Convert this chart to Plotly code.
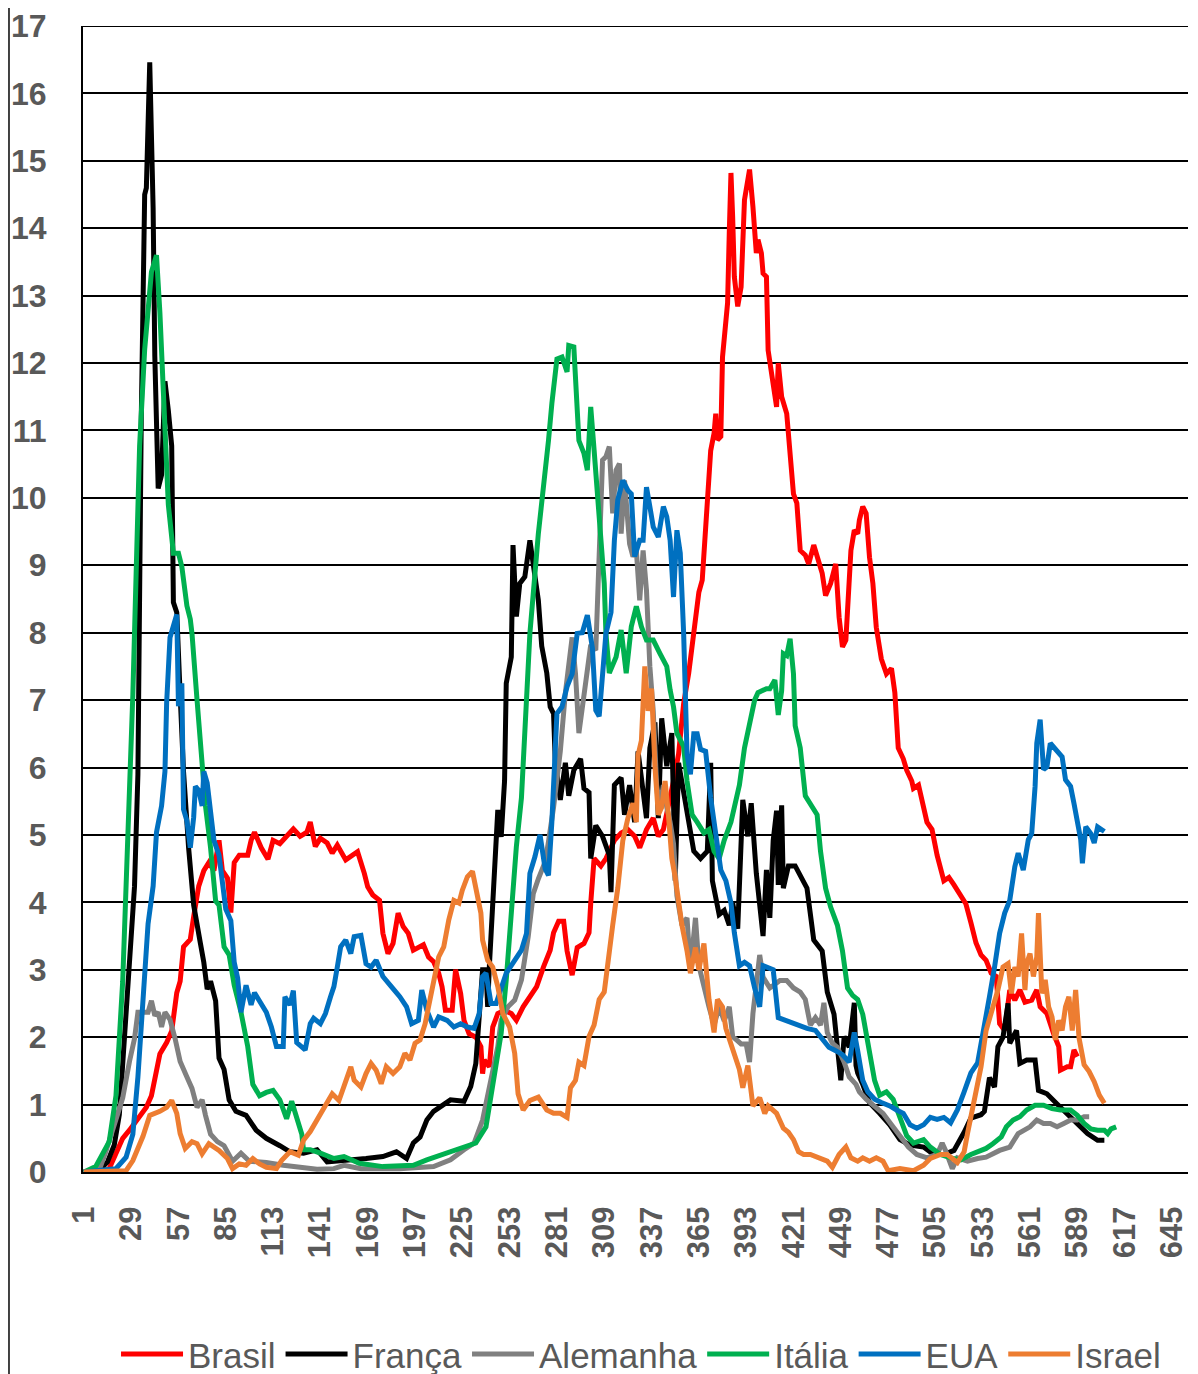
import plotly.graph_objects as go

# ---------------- data ----------------
tick_vals = list(range(1, 646, 28))
tick_text = [str(v) for v in tick_vals]

brasil_days = [1, 12, 16, 20, 24, 28, 34, 38, 41, 43, 46, 50, 53, 56, 58, 60, 64, 66, 69, 72, 75, 78, 81, 83, 86, 88, 90, 93, 98, 100, 102, 106, 110, 113, 117, 121, 125, 129, 133, 135, 138, 141, 145, 148, 151, 156, 160, 163, 167, 169, 172, 176, 178, 181, 184, 187, 190, 193, 196, 199, 202, 205, 208, 211, 213, 215, 219, 221, 224, 226, 229, 233, 236, 237, 238, 241, 243, 246, 250, 254, 257, 261, 265, 269, 273, 277, 279, 282, 285, 287, 290, 293, 297, 300, 301, 303, 307, 310, 315, 319, 323, 327, 330, 334, 338, 341, 344, 347, 350, 353, 356, 359, 362, 365, 367, 369, 371, 372, 374, 375, 376, 378, 379, 381, 382, 383, 384, 385, 386, 388, 390, 392, 395, 397, 399, 400, 402, 403, 405, 406, 407, 409, 411, 412, 414, 417, 419, 421, 423, 425, 428, 430, 433, 436, 438, 440, 443, 446, 448, 450, 452, 455, 457, 459, 460, 462, 464, 466, 468, 470, 472, 473, 476, 479, 481, 483, 486, 488, 491, 492, 495, 498, 500, 503, 506, 510, 513, 516, 520, 523, 526, 529, 532, 535, 538, 541, 543, 546, 549, 552, 555, 558, 562, 565, 567, 571, 575, 578, 579, 583, 585, 587, 589]
brasil_vals = [0, 0, 0.05, 0.28, 0.5, 0.62, 0.84, 0.96, 1.13, 1.41, 1.75, 1.92, 2.09, 2.66, 2.83, 3.34, 3.45, 3.79, 4.24, 4.47, 4.59, 4.47, 4.92, 4.47, 4.36, 3.85, 4.59, 4.7, 4.7, 4.92, 5.04, 4.81, 4.64, 4.92, 4.87, 4.98, 5.09, 4.98, 5.04, 5.19, 4.83, 4.95, 4.88, 4.73, 4.85, 4.63, 4.7, 4.75, 4.43, 4.23, 4.11, 4.03, 3.54, 3.24, 3.39, 3.84, 3.64, 3.54, 3.29, 3.34, 3.37, 3.19, 3.12, 2.95, 2.75, 2.4, 2.4, 3.0, 2.65, 2.25, 2.05, 2.0, 1.86, 1.46, 1.66, 1.56, 2.15, 2.35, 2.4, 2.35, 2.25, 2.45, 2.6, 2.75, 3.04, 3.29, 3.55, 3.72, 3.72, 3.28, 2.92, 3.33, 3.39, 3.55, 3.99, 4.65, 4.54, 4.65, 4.92, 5.03, 5.08, 4.98, 4.81, 5.08, 5.25, 4.98, 5.08, 5.41, 5.8, 6.2, 6.95, 7.4, 8.0, 8.6, 8.78, 9.6, 10.4, 10.7, 10.96, 11.25, 10.86, 10.91, 12.09, 12.6, 12.89, 13.93, 14.82, 14.17, 13.28, 12.84, 13.13, 14.42, 14.87, 14.32, 13.63, 13.83, 13.63, 13.33, 13.28, 12.19, 12.04, 11.7, 11.35, 12.0, 11.5, 11.25, 10.71, 10.06, 9.92, 9.22, 9.15, 9.02, 9.3, 9.02, 8.88, 8.55, 8.73, 9.02, 8.23, 7.79, 7.89, 9.22, 9.52, 9.47, 9.67, 9.87, 9.77, 9.12, 8.73, 8.08, 7.74, 7.61, 7.39, 7.47, 7.11, 6.29, 6.13, 5.96, 5.8, 5.69, 5.74, 5.41, 5.19, 5.08, 4.7, 4.32, 4.37, 4.26, 4.1, 3.98, 3.7, 3.4, 3.22, 3.14, 2.95, 2.9, 2.2, 2.1, 2.7, 2.55, 2.7, 2.52, 2.55, 2.7, 2.45, 2.35, 2.05, 1.86, 1.51, 1.56, 1.56, 1.81, 1.71]

franca_days = [1, 10, 15, 19, 22, 25, 28, 31, 33, 34, 35, 37, 38, 40, 42, 43, 45, 47, 49, 51, 53, 54, 56, 58, 60, 63, 66, 70, 72, 74, 76, 79, 81, 84, 87, 91, 97, 103, 109, 117, 123, 131, 139, 145, 159, 168, 178, 186, 192, 196, 200, 204, 208, 214, 218, 226, 230, 233, 235, 237, 239, 240, 241, 242, 244, 246, 248, 250, 251, 254, 255, 257, 259, 262, 265, 267, 270, 272, 275, 277, 279, 280, 283, 286, 288, 291, 295, 297, 300, 301, 304, 308, 312, 313, 315, 319, 321, 324, 327, 329, 331, 334, 336, 339, 341, 343, 346, 349, 350, 351, 353, 356, 359, 362, 366, 370, 372, 373, 377, 380, 383, 385, 388, 391, 394, 396, 399, 401, 403, 405, 407, 409, 411, 412, 414, 415, 418, 422, 426, 429, 433, 438, 441, 445, 449, 451, 454, 457, 458, 459, 462, 466, 472, 478, 484, 490, 498, 504, 510, 516, 522, 526, 532, 534, 537, 540, 542, 545, 548, 549, 553, 555, 559, 564, 566, 571, 577, 583, 589, 595, 601, 605]
franca_vals = [0, 0.02, 0.15, 0.4, 0.85, 1.98, 3.1, 4.24, 5.9, 9.5, 11.2, 14.5, 14.6, 16.46, 14.3, 12.1, 10.14, 10.34, 11.73, 11.3, 10.77, 8.45, 8.3, 7.08, 5.94, 4.81, 3.96, 3.39, 3.11, 2.71, 2.83, 2.54, 1.69, 1.52, 1.07, 0.9, 0.84, 0.62, 0.5, 0.39, 0.3, 0.28, 0.33, 0.15, 0.17, 0.2, 0.23, 0.3, 0.2, 0.43, 0.52, 0.77, 0.9, 0.99, 1.07, 1.05, 1.27, 1.61, 2.36, 3.0, 3.0, 2.45, 3.05, 3.49, 4.33, 5.37, 4.97, 5.8, 7.25, 7.64, 9.3, 8.24, 8.73, 8.83, 9.37, 9.03, 8.48, 7.8, 7.4, 6.9, 6.8, 6.1, 5.52, 6.07, 5.58, 5.96, 6.13, 5.69, 5.63, 4.65, 5.14, 4.98, 4.7, 4.15, 5.74, 5.85, 5.3, 5.74, 5.19, 6.24, 5.85, 5.25, 6.29, 6.67, 5.25, 6.73, 6.02, 6.51, 5.47, 4.32, 6.07, 5.63, 5.19, 4.76, 4.65, 4.76, 6.07, 4.32, 3.82, 3.88, 3.66, 3.99, 3.61, 5.52, 4.98, 5.47, 4.43, 3.99, 3.5, 4.48, 3.77, 4.92, 5.36, 4.26, 5.44, 4.21, 4.54, 4.54, 4.37, 4.21, 3.44, 3.28, 2.67, 2.34, 1.36, 2.01, 1.85, 2.51, 1.58, 1.47, 1.3, 1.03, 0.87, 0.7, 0.48, 0.4, 0.37, 0.26, 0.26, 0.32, 0.59, 0.8, 0.85, 0.9, 1.4, 1.26, 1.86, 2.0, 2.5, 1.91, 2.1, 1.61, 1.66, 1.66, 1.21, 1.16, 1.01, 0.87, 0.72, 0.57, 0.47, 0.47]

alemanha_days = [1, 10, 14, 17, 20, 24, 28, 31, 33, 36, 39, 41, 43, 45, 47, 49, 52, 55, 58, 62, 65, 68, 71, 73, 76, 80, 84, 89, 94, 99, 109, 119, 129, 139, 149, 155, 165, 188, 208, 218, 226, 232, 237, 240, 243, 246, 248, 252, 256, 260, 264, 267, 270, 274, 276, 279, 283, 286, 290, 292, 294, 297, 301, 304, 306, 308, 310, 312, 314, 316, 318, 319, 321, 324, 326, 328, 330, 332, 334, 336, 338, 340, 342, 344, 346, 348, 350, 352, 355, 358, 360, 363, 365, 368, 371, 374, 377, 380, 383, 385, 387, 390, 393, 395, 397, 399, 401, 403, 407, 413, 417, 421, 425, 428, 431, 434, 437, 439, 441, 444, 447, 451, 454, 458, 460, 464, 469, 474, 479, 484, 489, 494, 500, 506, 509, 511, 515, 518, 524, 530, 535, 543, 549, 554, 557, 561, 565, 569, 573, 577, 581, 585, 589, 593, 596]
alemanha_vals = [0, 0.02, 0.3, 0.55, 0.8, 1.1, 1.64, 1.98, 2.37, 2.37, 2.37, 2.54, 2.32, 2.37, 2.15, 2.37, 2.26, 1.98, 1.64, 1.41, 1.24, 0.96, 1.07, 0.84, 0.56, 0.45, 0.39, 0.16, 0.28, 0.16, 0.14, 0.1, 0.07, 0.04, 0.05, 0.1, 0.05, 0.05, 0.08, 0.18, 0.33, 0.43, 0.77, 1.12, 1.46, 1.86, 2.25, 2.45, 2.55, 2.85, 3.49, 4.13, 4.35, 4.6, 4.9, 5.41, 6.24, 7.11, 7.93, 7.39, 6.51, 7.11, 7.82, 7.74, 9.47, 10.56, 10.61, 10.76, 9.77, 10.41, 10.51, 9.47, 10.26, 9.32, 9.13, 9.22, 8.48, 9.22, 8.63, 7.5, 6.84, 5.74, 5.41, 5.74, 5.41, 5.19, 4.87, 4.1, 3.66, 3.77, 3.0, 3.77, 3.06, 2.73, 2.45, 2.18, 2.45, 2.24, 2.45, 2.01, 1.96, 1.9, 1.9, 1.63, 2.35, 2.73, 3.22, 2.89, 2.73, 2.84, 2.84, 2.73, 2.67, 2.56, 2.18, 2.29, 2.18, 2.51, 2.07, 1.91, 1.85, 1.63, 1.41, 1.3, 1.19, 1.08, 0.98, 0.87, 0.7, 0.54, 0.37, 0.26, 0.21, 0.26, 0.43, 0.32, 0.05, 0.21, 0.16, 0.2, 0.22, 0.32, 0.37, 0.57, 0.62, 0.67, 0.77, 0.72, 0.72, 0.67, 0.72, 0.77, 0.77, 0.82, 0.82]

italia_days = [1, 8, 16, 20, 24, 27, 30, 34, 37, 41, 44, 46, 49, 51, 54, 57, 59, 62, 64, 65, 68, 71, 73, 76, 79, 81, 84, 87, 90, 94, 98, 101, 105, 109, 113, 117, 121, 124, 127, 130, 131, 135, 141, 149, 155, 164, 178, 196, 204, 216, 222, 233, 239, 242, 245, 248, 251, 254, 257, 260, 265, 270, 273, 276, 278, 281, 284, 287, 288, 291, 294, 297, 299, 301, 303, 306, 309, 310, 312, 316, 319, 322, 325, 328, 331, 334, 338, 342, 346, 348, 350, 352, 356, 358, 361, 364, 368, 371, 374, 377, 380, 384, 386, 389, 392, 395, 398, 400, 405, 407, 410, 412, 414, 415, 417, 419, 421, 422, 425, 428, 431, 435, 437, 440, 443, 447, 450, 453, 456, 459, 462, 465, 469, 472, 476, 480, 484, 488, 492, 498, 502, 508, 514, 520, 526, 530, 535, 539, 544, 547, 551, 555, 559, 564, 569, 574, 579, 585, 589, 593, 597, 601, 605, 607, 609, 612]
italia_vals = [0, 0.08, 0.45, 1.13, 2.83, 4.81, 7.08, 10.77, 12.2, 13.35, 13.6, 12.75, 11.1, 9.9, 9.18, 9.18, 8.98, 8.4, 8.2, 7.99, 7.0, 6.06, 5.43, 4.81, 4.02, 3.96, 3.34, 3.22, 2.77, 2.37, 1.86, 1.3, 1.13, 1.18, 1.21, 1.07, 0.79, 1.05, 0.79, 0.56, 0.33, 0.33, 0.28, 0.2, 0.23, 0.13, 0.08, 0.1, 0.18, 0.28, 0.33, 0.43, 0.67, 1.12, 1.61, 2.06, 2.85, 3.84, 4.83, 5.55, 7.99, 9.47, 10.11, 10.85, 11.4, 12.06, 12.09, 11.87, 12.26, 12.24, 10.85, 10.66, 10.41, 11.35, 10.71, 9.72, 8.73, 7.99, 7.4, 7.64, 8.04, 7.4, 8.09, 8.39, 8.09, 7.89, 7.89, 7.69, 7.5, 7.15, 6.9, 6.51, 6.31, 5.8, 5.3, 5.19, 5.03, 5.08, 4.76, 4.65, 4.92, 5.19, 5.41, 5.74, 6.29, 6.62, 7.0, 7.11, 7.17, 7.17, 7.3, 6.78, 7.14, 7.69, 7.66, 7.91, 7.39, 6.62, 6.29, 5.58, 5.47, 5.3, 4.76, 4.21, 3.93, 3.66, 3.28, 2.73, 2.62, 2.56, 2.34, 1.91, 1.36, 1.14, 1.19, 1.08, 0.81, 0.54, 0.43, 0.48, 0.37, 0.26, 0.21, 0.18, 0.26, 0.3, 0.35, 0.42, 0.52, 0.67, 0.77, 0.82, 0.92, 0.99, 0.99, 0.94, 0.92, 0.92, 0.84, 0.72, 0.64, 0.62, 0.62, 0.57, 0.64, 0.67]

eua_days = [1, 20, 26, 30, 33, 36, 39, 42, 44, 47, 49, 50, 52, 54, 56, 57, 59, 60, 62, 64, 66, 67, 69, 71, 72, 74, 76, 78, 81, 85, 88, 90, 92, 94, 97, 100, 102, 106, 109, 112, 115, 119, 120, 123, 125, 127, 132, 135, 137, 141, 144, 147, 149, 151, 153, 156, 159, 161, 165, 168, 171, 174, 178, 183, 188, 192, 195, 199, 201, 204, 208, 211, 216, 220, 224, 228, 232, 235, 237, 239, 242, 245, 248, 251, 256, 260, 263, 265, 268, 271, 274, 276, 278, 281, 284, 287, 290, 293, 296, 299, 302, 304, 306, 308, 310, 313, 315, 317, 320, 323, 325, 327, 330, 332, 334, 336, 338, 341, 344, 346, 348, 350, 352, 354, 356, 358, 360, 362, 364, 366, 369, 372, 375, 378, 381, 384, 386, 389, 392, 395, 398, 401, 403, 409, 412, 417, 423, 429, 434, 438, 442, 446, 450, 454, 457, 459, 462, 465, 469, 473, 478, 482, 486, 490, 494, 498, 502, 506, 510, 514, 518, 522, 526, 530, 533, 537, 540, 543, 546, 549, 552, 554, 557, 560, 562, 564, 565, 567, 569, 571, 573, 577, 580, 582, 585, 587, 589, 591, 592, 594, 597, 599, 601, 605]
eua_vals = [0, 0.05, 0.22, 0.56, 1.41, 2.54, 3.68, 4.24, 5.04, 5.43, 5.94, 6.96, 7.93, 8.1, 8.27, 6.91, 7.25, 5.38, 5.21, 4.81, 5.26, 5.72, 5.66, 5.43, 5.94, 5.77, 5.38, 4.92, 4.7, 3.9, 3.73, 3.11, 2.88, 2.37, 2.77, 2.48, 2.66, 2.48, 2.37, 2.15, 1.86, 1.86, 2.6, 2.48, 2.69, 1.92, 1.81, 2.2, 2.28, 2.2, 2.35, 2.6, 2.75, 3.04, 3.34, 3.44, 3.24, 3.49, 3.51, 3.09, 3.04, 3.14, 2.9, 2.75, 2.6, 2.45, 2.2, 2.25, 2.7, 2.4, 2.15, 2.3, 2.25, 2.15, 2.2, 2.15, 2.13, 2.35, 2.9, 2.95, 2.5, 2.5, 2.75, 2.95, 3.14, 3.29, 3.54, 4.43, 4.68, 5.0, 4.5, 4.4, 5.19, 6.8, 6.9, 7.2, 7.39, 7.99, 8.0, 8.26, 7.77, 6.85, 6.76, 7.3, 7.99, 8.3, 9.37, 9.97, 10.26, 10.11, 10.06, 9.13, 9.37, 9.37, 10.16, 9.87, 9.57, 9.42, 9.87, 9.72, 9.37, 8.53, 9.52, 9.18, 7.99, 6.2, 5.9, 6.5, 6.5, 6.27, 6.24, 5.55, 5.03, 4.48, 4.32, 3.99, 3.55, 3.06, 3.11, 3.06, 2.73, 2.45, 3.06, 3.0, 2.29, 2.24, 2.18, 2.13, 2.1, 1.96, 1.85, 1.8, 1.74, 1.63, 2.07, 1.8, 1.36, 1.19, 1.08, 1.03, 0.98, 0.92, 0.87, 0.7, 0.65, 0.7, 0.81, 0.78, 0.81, 0.73, 0.92, 1.19, 1.47, 1.62, 2.0, 2.6, 3.04, 3.54, 3.84, 4.03, 4.53, 4.73, 4.48, 4.93, 5.02, 5.72, 6.36, 6.71, 5.97, 6.01, 6.36, 6.26, 6.16, 5.82, 5.72, 5.47, 5.22, 4.93, 4.58, 5.12, 5.02, 4.88, 5.12, 5.05]

israel_days = [1, 26, 30, 36, 40, 46, 50, 53, 56, 58, 61, 65, 68, 71, 75, 81, 86, 89, 93, 97, 101, 105, 109, 115, 118, 123, 128, 131, 135, 139, 141, 144, 148, 152, 155, 159, 161, 165, 168, 171, 174, 177, 180, 184, 188, 191, 194, 197, 200, 203, 205, 208, 211, 214, 217, 220, 223, 225, 228, 231, 233, 236, 237, 240, 243, 246, 249, 253, 256, 258, 261, 265, 270, 273, 275, 279, 283, 287, 289, 292, 294, 297, 300, 303, 306, 309, 311, 314, 317, 320, 323, 326, 328, 329, 331, 333, 335, 337, 339, 341, 343, 345, 347, 349, 351, 353, 355, 358, 360, 363, 365, 368, 371, 374, 376, 379, 381, 384, 386, 389, 391, 394, 397, 401, 404, 406, 411, 415, 418, 421, 424, 427, 431, 436, 441, 444, 448, 452, 455, 459, 462, 466, 470, 474, 477, 484, 492, 498, 502, 508, 512, 518, 522, 524, 528, 532, 535, 539, 542, 545, 548, 550, 552, 554, 556, 558, 559, 561, 563, 565, 566, 568, 570, 572, 574, 576, 578, 580, 582, 584, 586, 588, 590, 593, 596, 599, 602, 605]
israel_vals = [0, 0.02, 0.17, 0.53, 0.84, 0.9, 0.96, 1.06, 0.87, 0.57, 0.35, 0.45, 0.42, 0.27, 0.42, 0.32, 0.2, 0.05, 0.12, 0.1, 0.2, 0.12, 0.07, 0.05, 0.17, 0.3, 0.25, 0.47, 0.6, 0.77, 0.85, 1.01, 1.16, 1.06, 1.26, 1.56, 1.36, 1.26, 1.46, 1.61, 1.51, 1.31, 1.56, 1.46, 1.56, 1.76, 1.66, 1.91, 1.96, 2.2, 2.45, 2.85, 3.19, 3.34, 3.74, 4.03, 3.99, 4.18, 4.38, 4.46, 4.18, 3.84, 3.44, 3.14, 3.04, 2.75, 2.35, 2.15, 1.76, 1.16, 0.92, 1.06, 1.11, 1.01, 0.92, 0.87, 0.87, 0.81, 1.25, 1.36, 1.63, 1.58, 2.01, 2.18, 2.56, 2.67, 3.11, 3.66, 4.21, 4.92, 5.25, 5.47, 5.19, 6.18, 6.4, 7.5, 6.84, 7.17, 6.02, 5.3, 5.41, 5.8, 5.3, 4.65, 4.37, 3.99, 3.66, 3.28, 2.95, 3.33, 3.0, 3.39, 2.56, 2.07, 2.56, 2.45, 2.13, 1.9, 1.74, 1.52, 1.25, 1.58, 0.98, 1.1, 0.87, 0.98, 0.87, 0.65, 0.59, 0.48, 0.3, 0.26, 0.26, 0.21, 0.16, 0.07, 0.26, 0.37, 0.21, 0.16, 0.21, 0.16, 0.21, 0.16, 0.02, 0.05, 0.02, 0.1, 0.2, 0.26, 0.26, 0.14, 0.3, 0.57, 1.06, 1.56, 2.1, 2.45, 2.7, 3.04, 3.09, 2.65, 3.04, 2.9, 3.54, 2.7, 3.09, 3.24, 2.9, 3.19, 3.84, 2.65, 2.85, 2.45, 2.3, 1.96, 2.25, 2.1, 2.45, 2.6, 2.1, 2.7, 1.99, 1.59, 1.49, 1.34, 1.14, 1.02]

series = [
    ("Brasil", brasil_days, brasil_vals, "#FF0000"),
    ("França", franca_days, franca_vals, "#000000"),
    ("Alemanha", alemanha_days, alemanha_vals, "#808080"),
    ("Itália", italia_days, italia_vals, "#00B050"),
    ("EUA", eua_days, eua_vals, "#0070C0"),
    ("Israel", israel_days, israel_vals, "#ED7D31"),
]

# ---------------- figure ----------------
fig = go.Figure()
for name, xs, ys, color in series:
    fig.add_trace(go.Scatter(
        x=xs, y=ys, mode="lines", name=name,
        line=dict(color=color, width=5),
    ))

ytick_font = dict(family="Liberation Sans, Arial, sans-serif", size=32,
                  color="#595959", weight="bold")
xtick_font = dict(family="Liberation Sans, Arial, sans-serif", size=31,
                  color="#595959", weight="bold")

# the page body adds an 8 px margin, so the figure is 8 px smaller
fig.update_layout(
    width=1190, height=1366,
    margin=dict(l=75, r=10, t=18, b=202, autoexpand=False),
    paper_bgcolor="white", plot_bgcolor="white",
    showlegend=True,
    legend=dict(
        orientation="h", x=0.505, xanchor="center",
        y=-0.159, yanchor="middle",
        font=dict(family="Liberation Sans, Arial, sans-serif", size=35, color="#595959"),
        itemwidth=62,
        bgcolor="rgba(0,0,0,0)",
    ),
    xaxis=dict(
        range=[0.5, 654.5], automargin=False,
        tickmode="array", tickvals=tick_vals, ticktext=tick_text,
        tickangle=-90, tickfont=xtick_font,
        showgrid=False, zeroline=False,
        showline=True, linecolor="black", linewidth=2,
        ticks="", ticklabelstandoff=20,
    ),
    yaxis=dict(
        range=[0, 17], tick0=0, dtick=1, automargin=False,
        tickfont=ytick_font,
        showgrid=True, gridcolor="black", gridwidth=2,
        zeroline=False,
        showline=True, linecolor="black", linewidth=2,
        ticks="", ticklabelstandoff=28,
    ),
    shapes=[
        dict(type="line", xref="paper", yref="paper",
             x0=-0.067, x1=-0.067, y0=-0.2, y1=1.03,
             line=dict(color="#404040", width=2)),
        dict(type="line", xref="paper", yref="y",
             x0=0, x1=1, y0=17, y1=17, layer="below",
             line=dict(color="black", width=2)),
    ],
)

fig.write_html("out.html")
